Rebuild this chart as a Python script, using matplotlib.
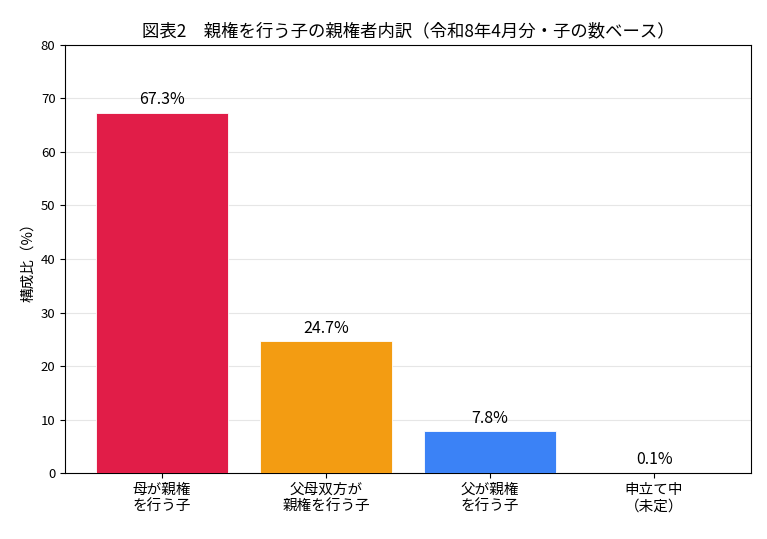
import matplotlib
matplotlib.use("Agg")
import matplotlib.pyplot as plt

plt.rcParams["font.family"] = ["Noto Sans CJK JP", "DejaVu Sans"]

categories = ["母が親権\nを行う子", "父母双方が\n親権を行う子", "父が親権\nを行う子", "申立て中\n（未定）"]
shares = [67.3, 24.7, 7.8, 0.1]
colors = ["#E11D48", "#F39C12", "#3B82F6", "#9CA3AF"]

fig, ax = plt.subplots(figsize=(7.67, 5.39), dpi=100)
x = range(len(categories))
bars = ax.bar(x, shares, width=0.8, color=colors, edgecolor="white", linewidth=0.6, zorder=3)

for b, v in zip(bars, shares):
    ax.text(b.get_x() + b.get_width() / 2, v + 0.8, f"{v}%", ha="center", va="bottom", fontsize=11.5)

ax.set_xticks(list(x))
ax.set_xticklabels(categories, fontsize=10.5)
ax.set_ylim(0, 80)
ax.set_ylabel("構成比（%）", fontsize=10.5)
ax.set_title("図表2　親権を行う子の親権者内訳（令和8年4月分・子の数ベース）", fontsize=12.5)
ax.yaxis.grid(True, color="#e6e6e6", linewidth=0.8, zorder=0)
ax.tick_params(axis="y", labelsize=9.5)

fig.subplots_adjust(left=0.085, right=0.979, top=0.917, bottom=0.122)
fig.savefig("out.png", dpi=100)
